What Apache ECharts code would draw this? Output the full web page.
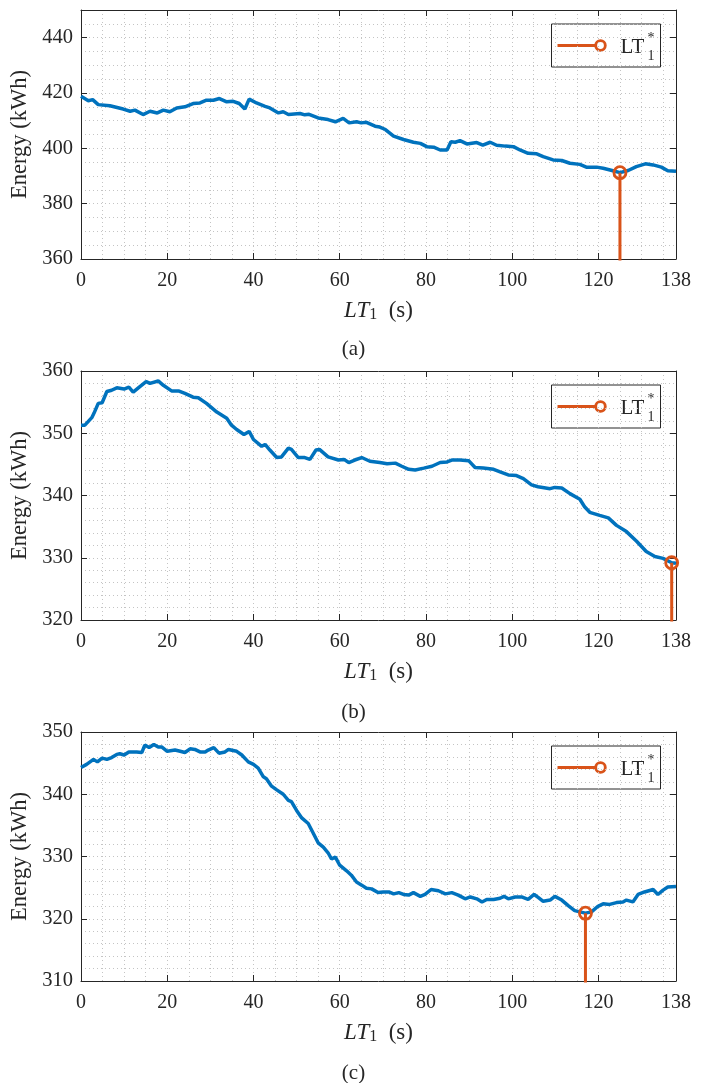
<!DOCTYPE html>
<html>
<head>
<meta charset="utf-8">
<script src="https://cdn.jsdelivr.net/npm/echarts@6/dist/echarts.min.js"></script>
<style>
  html, body { margin: 0; padding: 0; background: #fff; }
  #chart { width: 707px; height: 1083px; }
</style>
</head>
<body>
<div id="chart"></div>
<script>
// ---------------- data ----------------
const xTicks = [0, 20, 40, 60, 80, 100, 120, 138];

const aX = [0,1.7,2.7,4,6.7,9.8,11.4,12.5,14.4,16,17.7,19.1,20.6,22.2,24.1,26,27.6,29.1,30.7,32.1,33.8,35.3,36.7,38,39,40.7,42.7,43.8,45.8,46.9,48.1,50.8,51.9,52.9,55,57.3,59,60.8,62.2,63.9,65,66.2,68.2,69.3,70.6,72.5,74.8,77.1,78.7,80.2,81.8,83.3,84.9,85.8,86.8,87.9,89.5,91.8,93.2,94.9,96.4,98.4,100.3,101.8,103.7,105.7,107.2,109.5,111.5,113.4,115.7,117.2,119.6,121.1,123.4,125,126.9,128.8,130.9,132.7,134.6,136.1,138];
const aY = [418.8,417.2,417.6,415.8,415.4,414.2,413.4,413.8,412.2,413.4,412.8,413.8,413.2,414.6,415,416.2,416.4,417.4,417.4,418,416.8,417,416.2,414.2,417.8,416.4,415.2,414.6,412.8,413.2,412.2,412.6,412.1,412.3,411,410.4,409.6,410.8,409.2,409.6,409.2,409.4,408,407.7,406.8,404.4,403.2,402.2,401.8,400.6,400.4,399.4,399.4,402.4,402.2,402.8,401.6,402.1,401.2,402.2,401.1,400.8,400.6,399.4,398.2,398,397,395.8,395.6,394.6,394.2,393.2,393.2,392.8,391.9,391.2,392,393.4,394.4,394,393.2,391.9,391.7];

const bX = [0,0.9,2.5,3,4,4.9,6,7.1,8.3,10,11.1,12.1,13.3,15.1,16,17.9,19.1,21,22.6,24.1,26,27.2,29.1,31.5,33.8,34.9,36.1,37.8,39,40,41.9,42.7,43.8,45.4,46.5,48.1,48.8,50.4,51.9,53.1,54.5,55.3,57.3,59.7,61,62.1,63.5,65.1,67,69.3,71,72.9,74.4,76,77.5,79.5,81.4,83.3,84.9,86,87.9,89.9,91.4,93.3,95.7,97.2,99.1,101,102.6,104.5,106,108.8,109.9,111.5,113.4,115.7,116.8,118,120.3,122.3,124.2,126.5,128.8,131.1,133.1,135,137,138];
const bY = [351.3,351.3,352.5,353.2,354.8,354.9,356.7,356.9,357.3,357.1,357.4,356.6,357.3,358.3,358,358.4,357.7,356.8,356.8,356.4,355.8,355.7,354.8,353.4,352.4,351.3,350.6,349.8,350.3,349,347.9,348.2,347.3,346.1,346.2,347.6,347.4,346.1,346.1,345.8,347.3,347.4,346.2,345.7,345.8,345.3,345.7,346.1,345.5,345.3,345.1,345.2,344.7,344.2,344.1,344.4,344.7,345.3,345.4,345.7,345.7,345.6,344.5,344.4,344.2,343.8,343.3,343.2,342.7,341.7,341.4,341.1,341.3,341.2,340.3,339.4,338.2,337.3,336.8,336.4,335.2,334.2,332.7,331,330.2,329.9,329.2,329.1];

const cX = [0,1.3,2.9,3.8,4.9,6,7.1,8.3,9,10,11.1,12.9,14.1,14.8,15.8,16.9,17.9,18.7,20,21.8,23,24.1,25.3,26.4,27.6,28.8,29.5,30.8,32,33.4,34.2,36.1,37.3,38.8,40,41.1,42.3,43,44.2,45.4,46.9,48.1,48.8,50,51.2,52.7,53.9,55,56.2,57.3,58.1,59,60,61.6,62.7,63.9,65.1,66.2,67.4,68.9,70.1,71.4,72.5,73.7,74.8,76,77.1,78.7,79.8,81.2,82.9,84.5,86,87.5,89.1,90.3,91.8,93,94.1,95.7,97.2,98.1,99.1,100.7,102.2,103.7,105.1,106.1,107.2,108.8,109.9,111.5,113,114.5,115.7,117,118.4,119.9,121.1,122.6,124.2,125.7,126.5,128,129.2,130.7,132.7,133.8,135,136.1,138];
const cY = [344.3,344.8,345.6,345.2,345.8,345.6,345.9,346.4,346.5,346.3,346.8,346.8,346.7,347.9,347.5,348,347.6,347.6,346.9,347.1,346.9,346.7,347.3,347.2,346.8,346.8,347.1,347.5,346.6,346.8,347.2,346.9,346.3,345.2,344.8,344.2,342.8,342.5,341.3,340.7,340,339,338.8,337.4,336.2,335.3,333.7,332.2,331.5,330.6,329.6,329.9,328.6,327.7,327,325.9,325.4,324.9,324.8,324.2,324.3,324.3,324,324.2,323.9,323.8,324.2,323.6,323.9,324.7,324.5,324,324.2,323.8,323.2,323.5,323.2,322.7,323.1,323.1,323.3,323.6,323.2,323.5,323.5,323.1,323.9,323.4,322.8,323,323.6,323,322.1,321.3,321.1,320.9,321.1,322,322.4,322.3,322.6,322.7,323,322.7,323.9,324.3,324.7,323.9,324.6,325.1,325.2];

const yTicksA = [360, 380, 400, 420, 440];
const yTicksB = [320, 330, 340, 350, 360];
const yTicksC = [310, 320, 330, 340, 350];
const yRangeA = [360, 450];
const yRangeB = [320, 360];
const yRangeC = [310, 350];
const yMinorA = 5, yMinorB = 2, yMinorC = 2;
const xMinor = 5;

const optX = [125, 137, 117];
const optY = [391.2, 329.2, 320.9];

const captions = ['(a)', '(b)', '(c)'];
const yLabel = 'Energy (kWh)';

// ---------------- build ----------------
const FONT = "'Liberation Serif', 'Times New Roman', serif";
const TXT = '#262626';
const BLUE = '#0072BD';
const ORANGE = '#D95319';
const GRIDC = '#c4c4c4';

const panels = [
  { xs: aX, ys: aY, yTicks: yTicksA, yRange: yRangeA, yMinor: yMinorA },
  { xs: bX, ys: bY, yTicks: yTicksB, yRange: yRangeB, yMinor: yMinorB },
  { xs: cX, ys: cY, yTicks: yTicksC, yRange: yRangeC, yMinor: yMinorC }
];

const gridLeft = 81, gridWidth = 595, gridHeight = 249;
const gridTops = [10, 371, 732];
const captionY = [349, 712, 1073];

const grids = [], xAxes = [], yAxes = [], series = [], graphics = [];

panels.forEach((p, i) => {
  grids.push({ left: gridLeft, top: gridTops[i], width: gridWidth, height: gridHeight, outerBoundsMode: 'none' });
  const lineStyle = { color: TXT, width: 1 };
  xAxes.push({
    type: 'value', gridIndex: i, position: 'bottom', min: 0, max: 138,
    axisLine: { show: true, onZero: false, lineStyle },
    axisTick: { show: true, inside: true, length: 6, lineStyle, customValues: xTicks },
    axisLabel: { show: true, customValues: xTicks, fontFamily: FONT, fontSize: 20, color: TXT, margin: 12 },
    splitLine: { show: false },
    name: '{i|LT}{s|1}{n|  (s)}',
    nameLocation: 'middle', nameGap: 39,
    nameTextStyle: {
      fontFamily: FONT, fontSize: 23, color: TXT,
      rich: {
        i: { fontFamily: FONT, fontSize: 23, fontStyle: 'italic', color: TXT, lineHeight: 25 },
        s: { fontFamily: FONT, fontSize: 16, color: TXT, lineHeight: 10, verticalAlign: 'bottom' },
        n: { fontFamily: FONT, fontSize: 23, color: TXT, lineHeight: 25 }
      }
    }
  });
  xAxes.push({
    type: 'value', gridIndex: i, position: 'top', min: 0, max: 138,
    axisLine: { show: true, onZero: false, lineStyle },
    axisTick: { show: true, inside: true, length: 6, lineStyle, customValues: xTicks },
    axisLabel: { show: false }, splitLine: { show: false }
  });
  xAxes.push({
    type: 'value', gridIndex: i, position: 'bottom', min: 0, max: 138, interval: xMinor,
    axisLine: { show: false }, axisTick: { show: false }, axisLabel: { show: false },
    splitLine: { show: true, lineStyle: { color: GRIDC, width: 1, type: [1, 3] } }
  });

  yAxes.push({
    type: 'value', gridIndex: i, position: 'left', min: p.yRange[0], max: p.yRange[1],
    axisLine: { show: true, onZero: false, lineStyle },
    axisTick: { show: true, inside: true, length: 6, lineStyle, customValues: p.yTicks },
    axisLabel: { show: true, customValues: p.yTicks, fontFamily: FONT, fontSize: 20.5, color: TXT, margin: 8 },
    splitLine: { show: false },
    name: yLabel, nameLocation: 'middle', nameGap: 47, nameRotate: 90,
    nameTextStyle: { fontFamily: FONT, fontSize: 22.5, color: TXT }
  });
  yAxes.push({
    type: 'value', gridIndex: i, position: 'right', min: p.yRange[0], max: p.yRange[1],
    axisLine: { show: true, onZero: false, lineStyle },
    axisTick: { show: true, inside: true, length: 6, lineStyle, customValues: p.yTicks },
    axisLabel: { show: false }, splitLine: { show: false }
  });
  yAxes.push({
    type: 'value', gridIndex: i, position: 'left', min: p.yRange[0], max: p.yRange[1], interval: p.yMinor,
    axisLine: { show: false }, axisTick: { show: false }, axisLabel: { show: false },
    splitLine: { show: true, lineStyle: { color: GRIDC, width: 1, type: [1, 3] } }
  });

  series.push({
    type: 'line', xAxisIndex: 3 * i, yAxisIndex: 3 * i,
    data: p.xs.map((x, k) => [x, p.ys[k]]),
    symbol: 'none', lineStyle: { color: BLUE, width: 3.5 }, itemStyle: { color: BLUE },
    z: 3, clip: true, animation: false
  });
  series.push({
    type: 'line', xAxisIndex: 3 * i, yAxisIndex: 3 * i,
    data: [
      { value: [optX[i], 0], symbol: 'none' },
      { value: [optX[i], optY[i]] }
    ],
    symbol: 'circle', symbolSize: 12, showSymbol: true,
    lineStyle: { color: ORANGE, width: 3 },
    itemStyle: { color: 'rgba(0,0,0,0)', borderColor: ORANGE, borderWidth: 2.8 },
    z: 4, clip: true, animation: false
  });

  const lw = 109, lh = 43;
  const lx = gridLeft + gridWidth - 16 - lw;
  const ly = gridTops[i] + 13.5;
  graphics.push({
    type: 'group', left: lx, top: ly, z: 100,
    children: [
      { type: 'rect', shape: { x: 0, y: 0, width: lw, height: lh }, style: { fill: '#fff', stroke: TXT, lineWidth: 1 } },
      { type: 'line', shape: { x1: 6, y1: 21.5, x2: 45, y2: 21.5 }, style: { stroke: ORANGE, lineWidth: 3 } },
      { type: 'circle', shape: { cx: 49, cy: 21.5, r: 4.8 }, style: { fill: '#fff', stroke: ORANGE, lineWidth: 2.8 } },
      { type: 'text', x: 69, y: 23, style: { text: 'LT', font: '21px ' + FONT, fill: TXT, verticalAlign: 'middle' } },
      { type: 'text', x: 96, y: 14, style: { text: '*', font: '14px ' + FONT, fill: TXT, verticalAlign: 'middle' } },
      { type: 'text', x: 96, y: 32, style: { text: '1', font: '14px ' + FONT, fill: TXT, verticalAlign: 'middle' } }
    ]
  });
  graphics.push({
    type: 'text', x: 353.5, y: captionY[i], z: 100,
    style: { text: captions[i], font: '21px ' + FONT, fill: TXT, align: 'center', verticalAlign: 'middle' }
  });
});

const chart = echarts.init(document.getElementById('chart'), null, { renderer: 'canvas' });
chart.setOption({
  animation: false,
  backgroundColor: '#fff',
  grid: grids,
  xAxis: xAxes,
  yAxis: yAxes,
  series: series,
  graphic: graphics
});
</script>
</body>
</html>
